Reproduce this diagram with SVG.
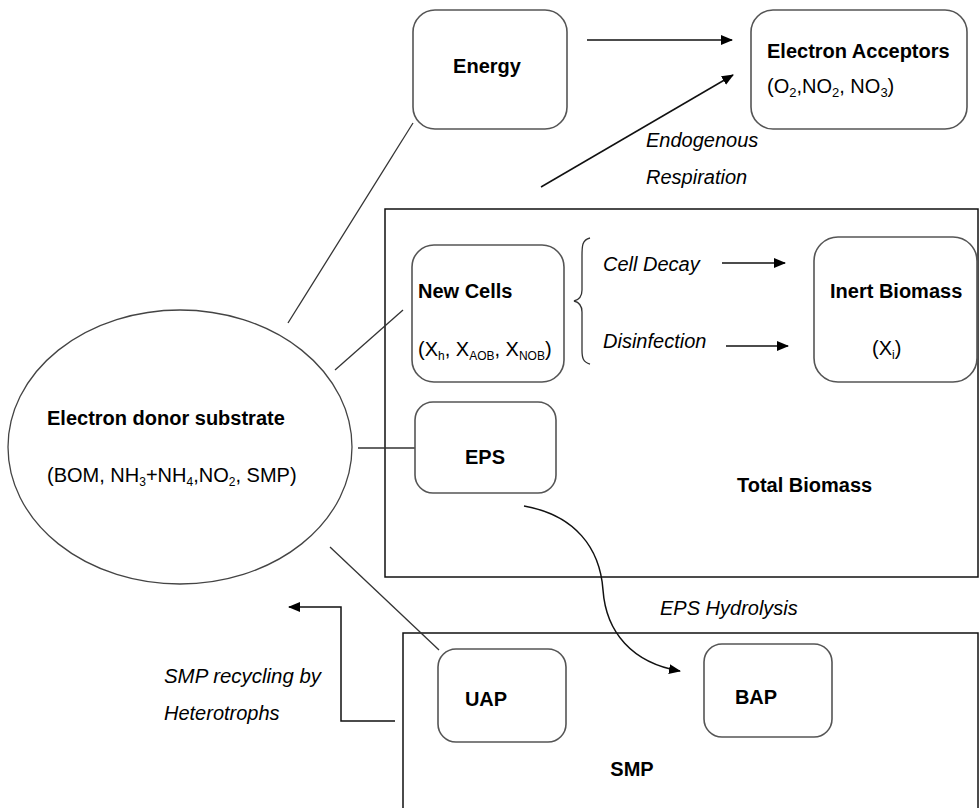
<svg xmlns="http://www.w3.org/2000/svg" width="979" height="808" viewBox="0 0 979 808">
<style>
.box{fill:#fff;stroke:#555;stroke-width:1.6}
.frame{fill:none;stroke:#111;stroke-width:1.5}
.ln{fill:none;stroke:#333;stroke-width:1.3}
.arr{fill:none;stroke:#111;stroke-width:1.5}
text{font-family:"Liberation Sans",Arial,sans-serif;font-size:20px;fill:#000}
.b{font-weight:bold}
.i{font-style:italic}
.c{text-anchor:middle}
</style>
<defs>
<marker id="ah" viewBox="0 0 12 10" refX="11" refY="5" markerWidth="12" markerHeight="10" markerUnits="userSpaceOnUse" orient="auto">
<path d="M0,0 L12,5 L0,10 Z" fill="#000"/>
</marker>
</defs>
<rect width="979" height="808" fill="#fff"/>
<g id="total-biomass">
<rect class="frame" x="385" y="209" width="593" height="368"/>
<text class="b" x="737" y="492">Total Biomass</text>
</g>
<g id="smp">
<rect class="frame" x="403" y="633" width="575" height="180"/>
<text class="b c" x="632" y="776">SMP</text>
</g>
<g id="connectors">
<line class="ln" x1="413" y1="123" x2="288" y2="323"/>
<line class="ln" x1="403" y1="310" x2="335" y2="370"/>
<line class="ln" x1="358" y1="448" x2="415" y2="448"/>
<line class="ln" x1="330" y1="547" x2="439" y2="650"/>
<line class="arr" x1="587" y1="40" x2="732" y2="40" marker-end="url(#ah)"/>
<line class="arr" x1="541" y1="187" x2="733" y2="75" marker-end="url(#ah)"/>
<line class="arr" x1="722" y1="263" x2="785" y2="263" marker-end="url(#ah)"/>
<line class="arr" x1="726" y1="346" x2="788" y2="346" marker-end="url(#ah)"/>
<path class="arr" d="M524,506 C575,515 600,548 603,590 C606,632 632,663 680,671" marker-end="url(#ah)"/>
<polyline class="arr" points="395,721 341,721 341,607 289,607" marker-end="url(#ah)"/>
<path class="ln" d="M590,238 C582,240 582,246 582,256 L582,290 C582,298 578,300 574,301 C578,302 582,304 582,312 L582,350 C582,358 583,362 590,364"/>
</g>
<g id="energy">
<rect class="box" x="413" y="10" width="154" height="119" rx="22"/>
<text class="b c" x="487" y="73">Energy</text>
</g>
<g id="electron-acceptors">
<rect class="box" x="751" y="10" width="216" height="119" rx="22"/>
<text class="b" x="767" y="58">Electron Acceptors</text>
<text x="767" y="93">(O<tspan font-size="13" dy="4">2</tspan><tspan dy="-4">,NO</tspan><tspan font-size="13" dy="4">2</tspan><tspan dy="-4">, NO</tspan><tspan font-size="13" dy="4">3</tspan><tspan dy="-4">)</tspan></text>
</g>
<g id="endogenous-label">
<text class="i" x="646" y="147">Endogenous</text>
<text class="i" x="646" y="184">Respiration</text>
</g>
<g id="new-cells">
<rect class="box" x="412" y="245" width="152" height="137" rx="22"/>
<text class="b" x="418" y="298">New Cells</text>
<text x="418" y="356" font-size="19">(X<tspan font-size="12" dy="4">h</tspan><tspan dy="-4">, X</tspan><tspan font-size="12" dy="4">AOB</tspan><tspan dy="-4">, X</tspan><tspan font-size="12" dy="4">NOB</tspan><tspan dy="-4">)</tspan></text>
</g>
<g id="decay-labels">
<text class="i" x="603" y="271">Cell Decay</text>
<text class="i" x="603" y="348">Disinfection</text>
</g>
<g id="inert-biomass">
<rect class="box" x="814" y="237" width="163" height="145" rx="24"/>
<text class="b" x="830" y="298">Inert Biomass</text>
<text x="872" y="355">(X<tspan font-size="12" dy="4">i</tspan><tspan dy="-4">)</tspan></text>
</g>
<g id="electron-donor">
<ellipse fill="#fff" stroke="#444" stroke-width="1.3" cx="180" cy="447" rx="172" ry="137"/>
<text class="b" x="47" y="425">Electron donor substrate</text>
<text x="47" y="482" font-size="19">(BOM, NH<tspan font-size="12" dy="4">3</tspan><tspan dy="-4">+NH</tspan><tspan font-size="12" dy="4">4</tspan><tspan dy="-4">,NO</tspan><tspan font-size="12" dy="4">2</tspan><tspan dy="-4">, SMP)</tspan></text>
</g>
<g id="eps">
<rect class="box" x="415" y="402" width="141" height="91" rx="18"/>
<text class="b c" x="485" y="464">EPS</text>
</g>
<g id="eps-hydrolysis-label">
<text class="i" x="660" y="615">EPS Hydrolysis</text>
</g>
<g id="uap">
<rect class="box" x="438" y="649" width="128" height="93" rx="18"/>
<text class="b c" x="486" y="706">UAP</text>
</g>
<g id="bap">
<rect class="box" x="704" y="644" width="128" height="93" rx="18"/>
<text class="b c" x="756" y="704">BAP</text>
</g>
<g id="recycling-label">
<text class="i" x="164" y="683" textLength="157" lengthAdjust="spacingAndGlyphs">SMP recycling by</text>
<text class="i" x="164" y="720">Heterotrophs</text>
</g>
</svg>
